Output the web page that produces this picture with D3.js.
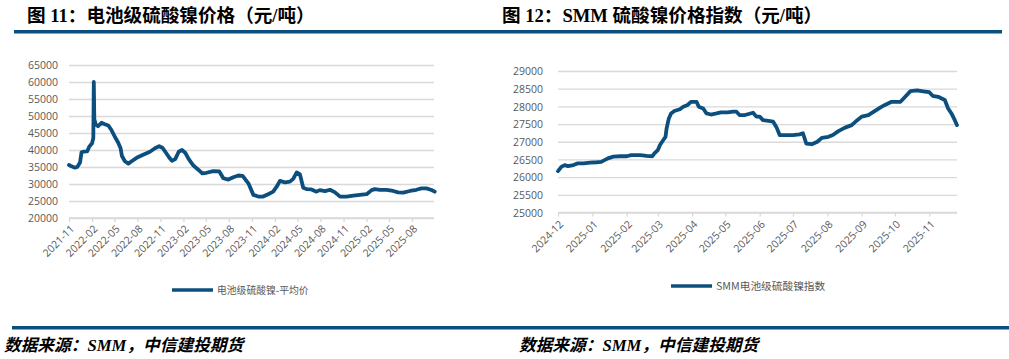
<!DOCTYPE html>
<html><head><meta charset="utf-8">
<script src="https://cdn.jsdelivr.net/npm/d3@7"></script>
<style>
body{margin:0;background:#fff;}
svg{display:block;}
.title{font-family:"Liberation Serif","Noto Sans CJK SC",serif;font-weight:bold;font-size:18.6px;fill:#000;}
.src{font-family:"Liberation Serif","Noto Sans CJK SC",serif;font-style:italic;font-weight:bold;font-size:16.7px;fill:#000;}
.tick text{font-family:"Open Sans","Noto Sans CJK SC",sans-serif;font-size:10.5px;fill:#595959;}
.leg{font-family:"Noto Sans CJK SC","Open Sans",sans-serif;font-size:10.5px;fill:#595959;}
</style></head>
<body>
<script>
// ---------- data ----------
const leftDates = ["2021-11-01","2021-11-11","2021-11-25","2021-12-04","2021-12-15","2021-12-21","2021-12-28","2022-01-13","2022-01-21","2022-02-01","2022-02-06","2022-02-08","2022-02-10","2022-02-16","2022-02-25","2022-03-11","2022-03-24","2022-04-07","2022-04-20","2022-05-03","2022-05-16","2022-05-26","2022-05-31","2022-06-12","2022-06-26","2022-07-09","2022-07-29","2022-08-24","2022-09-20","2022-10-10","2022-10-27","2022-11-10","2022-11-23","2022-12-06","2022-12-17","2022-12-30","2023-01-13","2023-01-26","2023-02-08","2023-02-22","2023-03-12","2023-04-01","2023-04-17","2023-05-04","2023-05-31","2023-06-24","2023-07-10","2023-07-30","2023-08-19","2023-09-08","2023-09-25","2023-10-18","2023-11-07","2023-11-26","2023-12-16","2024-01-05","2024-01-25","2024-02-08","2024-02-21","2024-03-12","2024-04-01","2024-04-14","2024-04-28","2024-05-11","2024-05-24","2024-06-06","2024-06-26","2024-07-16","2024-07-29","2024-08-19","2024-09-08","2024-09-28","2024-10-18","2024-11-13","2024-12-10","2025-01-05","2025-02-01","2025-02-21","2025-03-06","2025-03-26","2025-04-22","2025-05-18","2025-06-07","2025-06-27","2025-07-24","2025-08-19","2025-09-08","2025-09-28","2025-10-18","2025-10-31"];
const leftValues = [35600,35200,34800,35000,36300,39300,39500,39600,41000,42000,43500,60000,49000,47500,47000,48000,47600,47200,45800,43900,42200,40500,38300,36700,36000,36700,37700,38600,39500,40500,41100,40600,39200,37800,36800,37300,39500,40000,39200,37300,35500,34200,33100,33300,33800,33700,31700,31300,32000,32500,32400,30200,26800,26300,26300,27000,27750,29200,30900,30500,30700,31500,33400,32800,28900,28500,28400,27750,28200,27900,28300,27550,26300,26300,26600,26800,27000,28200,28500,28300,28250,27950,27550,27450,27950,28300,28700,28700,28250,27750];

const rightDates = ["2024-12-01","2024-12-04","2024-12-07","2024-12-10","2024-12-15","2024-12-19","2024-12-24","2024-12-30","2025-01-05","2025-01-09","2025-01-12","2025-01-15","2025-01-20","2025-01-26","2025-02-01","2025-02-05","2025-02-13","2025-02-19","2025-02-24","2025-02-26","2025-03-01","2025-03-03","2025-03-06","2025-03-08","2025-03-09","2025-03-11","2025-03-13","2025-03-16","2025-03-21","2025-03-24","2025-03-28","2025-03-31","2025-04-05","2025-04-07","2025-04-11","2025-04-14","2025-04-18","2025-04-23","2025-04-27","2025-05-03","2025-05-08","2025-05-11","2025-05-14","2025-05-18","2025-05-26","2025-05-29","2025-06-01","2025-06-04","2025-06-09","2025-06-13","2025-06-16","2025-06-19","2025-06-24","2025-07-01","2025-07-07","2025-07-10","2025-07-13","2025-07-18","2025-07-23","2025-07-27","2025-08-02","2025-08-06","2025-08-11","2025-08-17","2025-08-23","2025-08-28","2025-09-01","2025-09-07","2025-09-12","2025-09-18","2025-09-22","2025-09-28","2025-10-06","2025-10-09","2025-10-15","2025-10-21","2025-10-28","2025-11-01","2025-11-04","2025-11-09","2025-11-15","2025-11-18","2025-11-21","2025-11-24","2025-11-26"];
const rightValues = [26170,26290,26340,26310,26340,26390,26390,26410,26420,26430,26480,26530,26580,26590,26590,26620,26620,26600,26590,26670,26760,26910,27050,27140,27380,27660,27800,27870,27920,27990,28040,28130,28130,27990,27940,27800,27770,27800,27830,27830,27850,27850,27750,27750,27820,27710,27710,27610,27590,27570,27420,27190,27190,27190,27210,27240,26950,26930,27000,27110,27140,27190,27300,27400,27470,27610,27710,27750,27850,27970,28040,28130,28130,28230,28430,28450,28420,28400,28300,28270,28180,27940,27800,27610,27470];

const leftYTicks = [20000,25000,30000,35000,40000,45000,50000,55000,60000,65000];
const rightYTicks = [25000,25500,26000,26500,27000,27500,28000,28500,29000];
const leftXTicks = ["2021-11","2022-02","2022-05","2022-08","2022-11","2023-02","2023-05","2023-08","2023-11","2024-02","2024-05","2024-08","2024-11","2025-02","2025-05","2025-08"];
const rightXTicks = ["2024-12","2025-01","2025-02","2025-03","2025-04","2025-05","2025-06","2025-07","2025-08","2025-09","2025-10","2025-11"];

const leftTitle = "图 11：电池级硫酸镍价格（元/吨）";
const rightTitle = "图 12：SMM 硫酸镍价格指数（元/吨）";
const leftLegend = "电池级硫酸镍-平均价";
const rightLegend = "SMM电池级硫酸镍指数";
const source = "数据来源：SMM，中信建投期货";

// ---------- drawing ----------
const W = 1009, H = 359;
const BLUE = "#0c4f7e", GRID = "#d9d9d9";
const parse = d3.timeParse("%Y-%m-%d");
const parseM = d3.timeParse("%Y-%m");
const fmtM = d3.timeFormat("%Y-%m");

const svg = d3.select("body").append("svg").attr("width", W).attr("height", H);
svg.append("rect").attr("width", W).attr("height", H).attr("fill", "#fff");

// titles + rules
svg.append("text").attr("class","title").attr("x",27).attr("y",22).text(leftTitle);
svg.append("text").attr("class","title").attr("x",502).attr("y",22).text(rightTitle);
svg.append("rect").attr("x",14).attr("y",30).attr("width",988).attr("height",3.5).attr("fill",BLUE);
svg.append("rect").attr("x",12).attr("y",326).attr("width",997).attr("height",3.5).attr("fill",BLUE);
svg.append("text").attr("class","src").attr("x",4).attr("y",351).text(source);
svg.append("text").attr("class","src").attr("x",519).attr("y",351).text(source);

function drawChart(cfg){
  const g = svg.append("g");
  const x = d3.scaleTime().domain(cfg.xDomain.map(parse)).range(cfg.xRange);
  const y = d3.scaleLinear().domain(cfg.yDomain).range(cfg.yRange);
  // grid
  const yAxis = d3.axisLeft(y).tickValues(cfg.yTicks).tickSize(-(cfg.gridEnd - cfg.xRange[0])).tickPadding(11).tickFormat(d3.format("d"));
  const ya = g.append("g").attr("transform",`translate(${cfg.xRange[0]},0)`).call(yAxis);
  ya.select(".domain").remove();
  ya.selectAll(".tick line").attr("stroke",GRID).attr("stroke-width",1.3);
  ya.selectAll(".tick text").attr("x", cfg.labelRight - cfg.xRange[0]).attr("dy","0.36em");
  // x axis
  const xAxis = d3.axisBottom(x).tickValues(cfg.xTicks.map(parseM)).tickSize(4).tickFormat(fmtM);
  const xa = g.append("g").attr("transform",`translate(0,${cfg.yRange[0]})`).call(xAxis);
  xa.select(".domain").attr("stroke",GRID).attr("stroke-width",1.3).attr("d",`M${cfg.xRange[0]},0H${cfg.gridEnd}`);
  xa.selectAll(".tick line").attr("stroke",GRID).attr("stroke-width",1.3);
  xa.selectAll(".tick text")
    .attr("text-anchor","end").attr("y",0).attr("dy","0.35em")
    .attr("transform",`translate(3,${cfg.labelDrop}) rotate(-45)`);
  // line
  const data = cfg.dates.map((d,i)=>({d:parse(d), v:cfg.values[i]}));
  g.append("path").datum(data)
    .attr("fill","none").attr("stroke",BLUE).attr("stroke-width",3.8)
    .attr("stroke-linejoin","round").attr("stroke-linecap","round")
    .attr("d", d3.line().x(p=>x(p.d)).y(p=>y(p.v)));
  // legend
  g.append("line").attr("x1",cfg.leg[0]).attr("x2",cfg.leg[0]+41).attr("y1",cfg.leg[1]).attr("y2",cfg.leg[1])
    .attr("stroke",BLUE).attr("stroke-width",3.5);
  g.append("text").attr("class","leg").attr("x",cfg.leg[0]+45).attr("y",cfg.leg[1]).attr("dy","0.36em")
    .style("font-size", cfg.legSize + "px").text(cfg.legend);
}

drawChart({
  dates:leftDates, values:leftValues,
  xDomain:["2021-11-01","2025-11-01"], xRange:[69,435], gridEnd:434,
  yDomain:[20000,65000], yRange:[218,65], yTicks:leftYTicks, xTicks:leftXTicks,
  labelRight:58, labelDrop:9, leg:[172,290], legend:leftLegend, legSize:9.8
});
drawChart({
  dates:rightDates, values:rightValues,
  xDomain:["2024-12-01","2025-11-26"], xRange:[558,957], gridEnd:957,
  yDomain:[25000,29000], yRange:[212.5,71], yTicks:rightYTicks, xTicks:rightXTicks,
  labelRight:543, labelDrop:10, leg:[671,286], legend:rightLegend, legSize:10.7
});
</script>
</body></html>
